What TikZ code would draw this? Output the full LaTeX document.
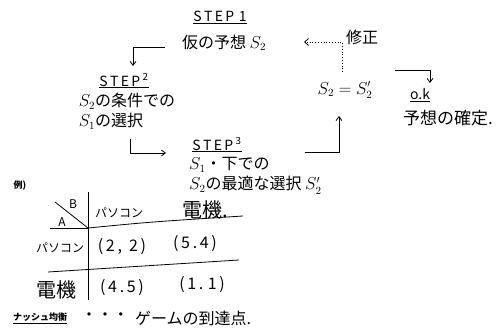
\documentclass[tikz,border=0pt]{standalone}
\usepackage{fontspec}
\setmainfont{Noto Sans CJK JP}
\usetikzlibrary{arrows.meta}
\begin{document}
\begin{tikzpicture}[x=1pt,y=-1pt,
  txt/.style={font=\fontsize{16}{20}\selectfont, inner sep=1pt},
  head/.style={font=\fontsize{14}{16}\selectfont, inner sep=1pt},
  big/.style={font=\fontsize{20}{22}\selectfont, inner sep=1pt},
  small/.style={font=\fontsize{12}{14}\selectfont, inner sep=1pt},
  note/.style={font=\bfseries\fontsize{9}{11}\selectfont, inner sep=1pt},
  conn/.style={line width=0.8pt, -{Straight Barb[length=4pt,width=6pt]}},
  dotconn/.style={line width=0.8pt, dotted, -{Straight Barb[length=4pt,width=7pt]}},
  rule/.style={line width=0.8pt}]
\useasboundingbox (0,0) rectangle (504,336);
\fill[white] (0,0) rectangle (504,336);

% flow
\node[head] (s1h) at (220,17) {\underline{S\,T\,E\,P\,\,1}};
\node[txt] (s1t) at (224,43) {仮の予想 $S_2$};
\node[head] (s2h) at (124,81) {\underline{S\,T\,E\,P\,\textsuperscript{2}}};
\node[txt, align=left] (s2t) at (127,111) {$S_2$の条件での\\$S_1$の選択};
\node[head] (s3h) at (217,145) {\underline{S\,T\,E\,P\,\textsuperscript{3}}};
\node[txt, align=left, anchor=west] (s3t) at (188,176) {$S_1$・下での\\$S_2$の最適な選択 $S_2'$};
\node[txt] (eq) at (345,90) {$S_2 = S_2'$};
\node[txt] (fix) at (362,37) {修正};
\node[head] (ok) at (420,95) {\underline{o.k}};
\node[txt, font=\fontsize{17}{20}\selectfont] (conf) at (448,118) {予想の確定.};

\coordinate (a1) at (165,47);
\coordinate (a1e) at (133,66);
\draw[conn] (a1) -| (a1e);
\coordinate (a2) at (130,139);
\coordinate (a2e) at (166,153);
\draw[conn] (a2) |- (a2e);
\coordinate (a3) at (305,152);
\coordinate (a3e) at (339,116);
\draw[conn] (a3) -| (a3e);
\coordinate (a4) at (342,72);
\coordinate (a4e) at (304,42);
\draw[dotconn] (a4) |- (a4e);
\coordinate (a5) at (395,70);
\coordinate (a5e) at (430,83);
\draw[conn] (a5) -| (a5e);

% example table
\node[note] (ex) at (20,186) {例)};
\draw[rule] (55,202) -- (88,228);
\node[small] (B) at (73,204) {B};
\node[small] (A) at (62,222) {A};
\draw[rule] (50,228) -- (88,228);
\draw[rule] (88,192) -- (88,300);
\draw[rule] (88,228) .. controls (150,222) .. (243,216);
\draw[rule] (48,272) -- (239,260);
\node[small] (h1) at (119,213) {パソコン};
\node[big] (h2) at (205,210) {電機.};
\node[small] (r1) at (60,248) {パソコン};
\node[big] (r2) at (56,290) {電機};
\node[txt] (c11) at (122,247) {(\,2\,,\;\,2\,)};
\node[txt] (c12) at (195,244) {(\,5\,.\,4\,)};
\node[txt] (c21) at (122,288) {(\,4\,.\,5\,)};
\node[txt] (c22) at (202,285) {(\,1\,.\;1\,)};

% bottom
\node[note] (nash) at (40,318) {\underline{ナッシュ均衡}};
\node[txt] (dots) at (105,317) {・・・};
\node[txt, anchor=west] (goal) at (134,318) {ゲームの到達点.};
\end{tikzpicture}
\end{document}
